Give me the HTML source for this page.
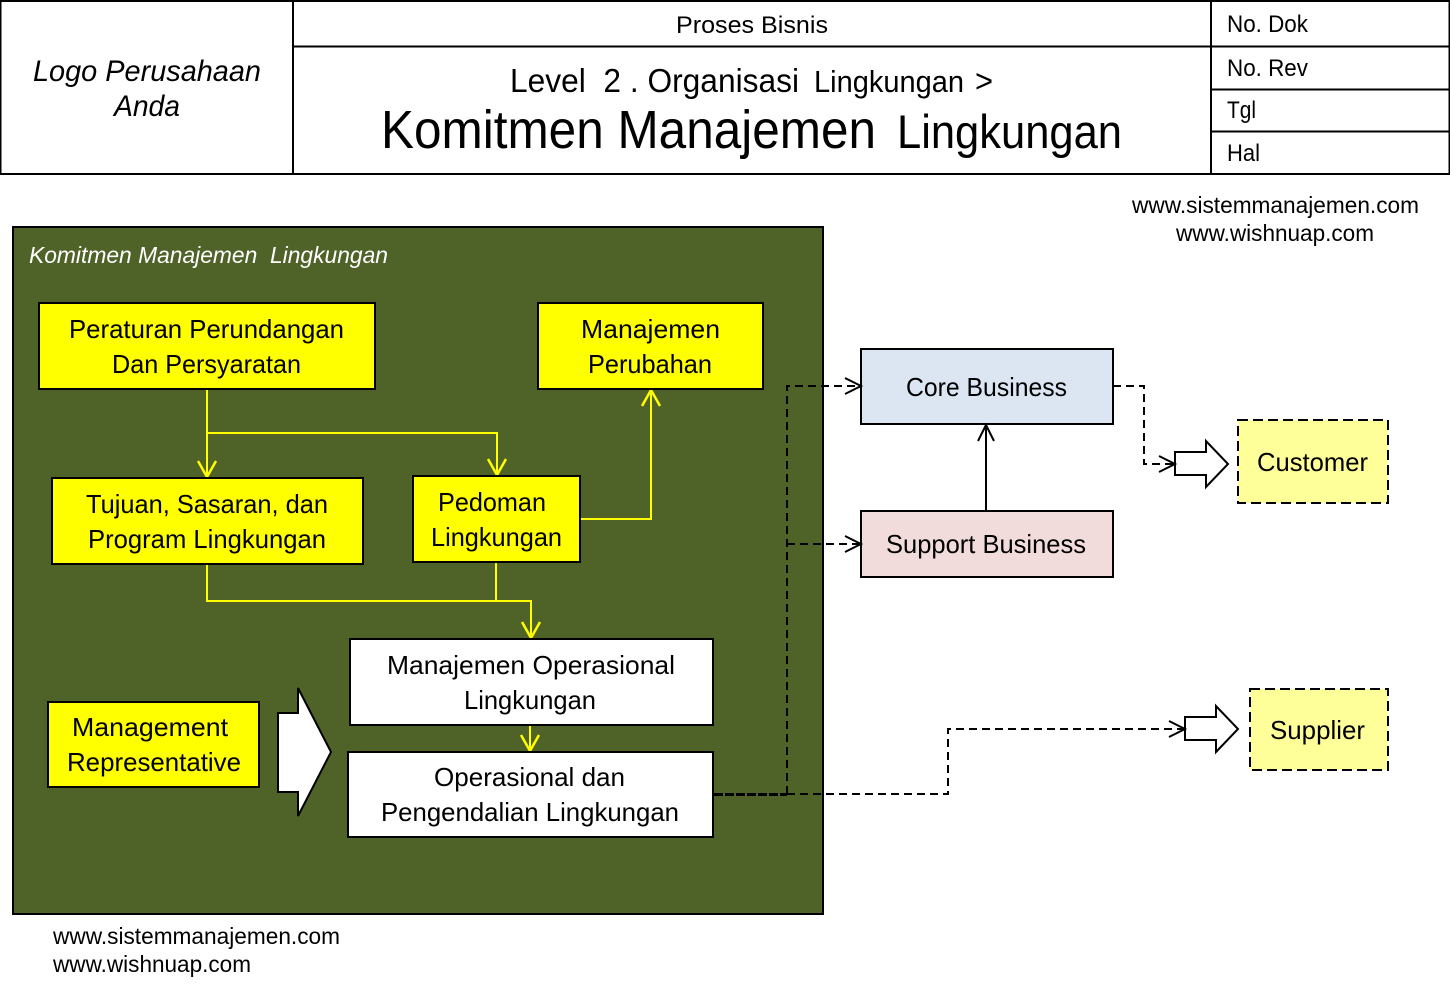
<!DOCTYPE html>
<html><head><meta charset="utf-8"><style>
html,body{margin:0;padding:0;background:#fff;width:1450px;height:991px;overflow:hidden}
svg{display:block}
text{font-family:"Liberation Sans",sans-serif;fill:#000}
.b{font-size:26px}
</style></head><body>
<svg width="1450" height="991" viewBox="0 0 1450 991" xmlns="http://www.w3.org/2000/svg">
<defs>
<marker id="y" markerUnits="userSpaceOnUse" markerWidth="22" markerHeight="22" refX="17" refY="11" orient="auto"><path d="M1 2 L17 11 L1 20" fill="none" stroke="#ffff00" stroke-width="2.500"/></marker>
<marker id="k" markerUnits="userSpaceOnUse" markerWidth="22" markerHeight="22" refX="17" refY="11" orient="auto"><path d="M1 3 L17 11 L1 19" fill="none" stroke="#000" stroke-width="2"/></marker>
</defs>
<g fill="none" stroke="#000" stroke-width="2">
<rect x="0.500" y="1" width="1449" height="173"/>
<path d="M293 1V174M1211 1V174M293 46.500H1450M1211 89.500H1450M1211 131.500H1450"/>
</g>
<text x="676" y="33" font-size="24" textLength="152" lengthAdjust="spacingAndGlyphs">Proses Bisnis</text>
<text x="1227" y="32" font-size="24" textLength="81" lengthAdjust="spacingAndGlyphs">No. Dok</text>
<text x="1227" y="76" font-size="24" textLength="81" lengthAdjust="spacingAndGlyphs">No. Rev</text>
<text x="1227" y="118" font-size="24" textLength="29" lengthAdjust="spacingAndGlyphs">Tgl</text>
<text x="1227" y="161" font-size="24" textLength="33" lengthAdjust="spacingAndGlyphs">Hal</text>
<text x="33" y="81" font-size="30" font-style="italic" textLength="228" lengthAdjust="spacingAndGlyphs">Logo Perusahaan</text>
<text x="114" y="116" font-size="30" font-style="italic" textLength="66" lengthAdjust="spacingAndGlyphs">Anda</text>
<text x="510" y="92" font-size="33" xml:space="preserve" textLength="289" lengthAdjust="spacingAndGlyphs">Level  2 . Organisasi</text>
<text x="814" y="92" font-size="31" textLength="150" lengthAdjust="spacingAndGlyphs">Lingkungan</text>
<text x="975" y="92" font-size="32" textLength="18" lengthAdjust="spacingAndGlyphs">&gt;</text>
<text x="381" y="148" font-size="54" textLength="495" lengthAdjust="spacingAndGlyphs">Komitmen Manajemen</text>
<text x="897" y="148" font-size="47" textLength="225" lengthAdjust="spacingAndGlyphs">Lingkungan</text>
<text x="1132" y="213" font-size="23" textLength="287" lengthAdjust="spacingAndGlyphs">www.sistemmanajemen.com</text>
<text x="1176" y="241" font-size="23" textLength="198" lengthAdjust="spacingAndGlyphs">www.wishnuap.com</text>
<text x="53" y="944" font-size="23" textLength="287" lengthAdjust="spacingAndGlyphs">www.sistemmanajemen.com</text>
<text x="53" y="972" font-size="23" textLength="198" lengthAdjust="spacingAndGlyphs">www.wishnuap.com</text>

<rect x="13" y="227" width="810" height="687" fill="#4f6228" stroke="#000" stroke-width="2"/>
<text x="29" y="263" font-size="23" font-style="italic" style="fill:#fff" xml:space="preserve" textLength="359" lengthAdjust="spacingAndGlyphs">Komitmen Manajemen  Lingkungan</text>

<g fill="none" stroke="#ffff00" stroke-width="2">
<path d="M207 389V477" marker-end="url(#y)"/>
<path d="M207 433H497V475" marker-end="url(#y)"/>
<path d="M580 519H651V390" marker-end="url(#y)"/>
<path d="M207 564V601H531V638" marker-end="url(#y)"/>
<path d="M496 562V601"/>
<path d="M530 725V751" marker-end="url(#y)"/>
</g>

<g stroke="#000" stroke-width="2">
<rect x="39" y="303" width="336" height="86" fill="#ffff00"/>
<rect x="538" y="303" width="225" height="86" fill="#ffff00"/>
<rect x="52" y="478" width="311" height="86" fill="#ffff00"/>
<rect x="413" y="476" width="167" height="86" fill="#ffff00"/>
<rect x="48" y="702" width="211" height="85" fill="#ffff00"/>
<rect x="350" y="639" width="363" height="86" fill="#fff"/>
<rect x="348" y="752" width="365" height="85" fill="#fff"/>
<rect x="861" y="349" width="252" height="75" fill="#dce6f2"/>
<rect x="861" y="511" width="252" height="66" fill="#f2dcdb"/>
<rect x="1238" y="420" width="150" height="83" fill="#ffff99" stroke-dasharray="10 5"/>
<rect x="1250" y="689" width="138" height="81" fill="#ffff99" stroke-dasharray="10 5"/>
<path d="M278 713H298V688L331 752L298 816V792H278Z" fill="#fff"/>
<path d="M1175 452H1206V441L1228 464L1206 487V475H1175Z" fill="#fff"/>
<path d="M1185 717H1216V706L1238 729L1216 752V740H1185Z" fill="#fff"/>
</g>

<g fill="none" stroke="#000" stroke-width="2">
<path d="M986 511V425" marker-end="url(#k)"/>
<path d="M787 794H948V729H1185" stroke-dasharray="8 5" marker-end="url(#k)"/>
<path d="M787 794V386H861" stroke-dasharray="8 5" marker-end="url(#k)"/>
<path d="M787 544H861" stroke-dasharray="8 5" marker-end="url(#k)"/>
<path d="M1113 386H1144V464H1175" stroke-dasharray="8 5" marker-end="url(#k)"/>
<path d="M714 794.500H787" stroke-width="3" stroke-dasharray="9 2"/>
</g>

<g>
<text class="b" x="69" y="338" textLength="275" lengthAdjust="spacingAndGlyphs">Peraturan Perundangan</text>
<text class="b" x="112" y="373" textLength="189" lengthAdjust="spacingAndGlyphs">Dan Persyaratan</text>
<text class="b" x="581" y="338" textLength="139" lengthAdjust="spacingAndGlyphs">Manajemen</text>
<text class="b" x="588" y="373" textLength="124" lengthAdjust="spacingAndGlyphs">Perubahan</text>
<text class="b" x="86" y="513" textLength="242" lengthAdjust="spacingAndGlyphs">Tujuan, Sasaran, dan</text>
<text class="b" x="88" y="548" textLength="238" lengthAdjust="spacingAndGlyphs">Program Lingkungan</text>
<text class="b" x="438" y="511" textLength="108" lengthAdjust="spacingAndGlyphs">Pedoman</text>
<text class="b" x="431" y="546" textLength="131" lengthAdjust="spacingAndGlyphs">Lingkungan</text>
<text class="b" x="387" y="674" textLength="288" lengthAdjust="spacingAndGlyphs">Manajemen Operasional</text>
<text class="b" x="464" y="709" textLength="132" lengthAdjust="spacingAndGlyphs">Lingkungan</text>
<text class="b" x="72" y="736" textLength="156" lengthAdjust="spacingAndGlyphs">Management</text>
<text class="b" x="67" y="771" textLength="174" lengthAdjust="spacingAndGlyphs">Representative</text>
<text class="b" x="434" y="786" textLength="191" lengthAdjust="spacingAndGlyphs">Operasional dan</text>
<text class="b" x="381" y="821" textLength="298" lengthAdjust="spacingAndGlyphs">Pengendalian Lingkungan</text>
<text class="b" x="906" y="396" textLength="161" lengthAdjust="spacingAndGlyphs">Core Business</text>
<text class="b" x="886" y="553" textLength="200" lengthAdjust="spacingAndGlyphs">Support Business</text>
<text class="b" x="1257" y="471" textLength="111" lengthAdjust="spacingAndGlyphs">Customer</text>
<text class="b" x="1270" y="739" textLength="95" lengthAdjust="spacingAndGlyphs">Supplier</text>
</g>
</svg>
</body></html>
